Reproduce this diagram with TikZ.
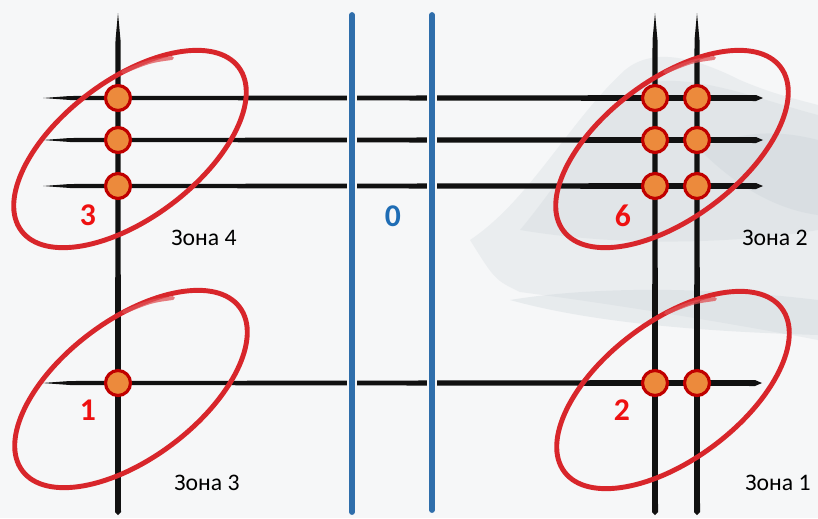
\documentclass[tikz,border=0pt]{standalone}
\usepackage{fontspec}
\setsansfont{Carlito}
\usetikzlibrary{positioning}
\definecolor{bgpaper}{HTML}{F6F7F8}
\definecolor{mist}{HTML}{C7D1D6}
\definecolor{ink}{HTML}{111111}
\definecolor{penred}{HTML}{D8262B}
\definecolor{dotrim}{HTML}{C00000}
\definecolor{dotfill}{HTML}{EC8A3C}
\definecolor{lineblue}{HTML}{2F6EAB}
\definecolor{zeroblue}{HTML}{1F6DB5}
\definecolor{numred}{HTML}{EE1111}

\begin{document}
\begin{tikzpicture}[
  x=0.02cm,y=-0.02cm,
  stick/.style={draw=lineblue,line width=3.3pt,line cap=round},
  halo/.style={draw=bgpaper,line width=6pt},
  zone/.style={draw=penred,line width=2.8pt},
  tail/.style={draw=penred!80,line width=2.2pt,opacity=.75,line cap=round},
  knot/.style={circle,draw=dotrim,fill=dotfill,line width=1.8pt,minimum size=0.5cm,inner sep=0pt},
  count/.style={font=\sffamily\bfseries\fontsize{18}{20}\selectfont,text=numred},
  zonelabel/.style={font=\sffamily\fontsize{13.5}{16}\selectfont,text=black}
]
\useasboundingbox (0,0) rectangle (818,518);
\fill[bgpaper] (0,0) rectangle (818,518);
\fill[mist,opacity=.25] (470,240) .. controls (530,200) and (570,120) .. (625,70) .. controls (655,45) and (700,60) .. (740,80) .. controls (775,95) and (800,100) .. (818,105) -- (818,340) .. controls (740,325) and (620,305) .. (520,292) .. controls (495,280) .. (470,240) -- cycle;
\fill[mist,opacity=.25] (520,230) .. controls (570,170) and (600,110) .. (640,85) .. controls (690,70) and (760,100) .. (818,115) -- (818,230) .. controls (760,240) and (640,250) .. (520,230) -- cycle;
\fill[mist,opacity=.3] (700,150) .. controls (740,130) and (780,130) .. (818,140) -- (818,215) .. controls (780,210) and (740,190) .. (700,150) -- cycle;
\fill[mist,opacity=.3] (510,300) .. controls (600,285) and (720,288) .. (818,300) -- (818,335) .. controls (720,332) and (600,325) .. (510,300) -- cycle;

\fill[ink] (43,98) -- (70,96) -- (756,95) -- (763,98) -- (756,101) -- (70,100) -- cycle;
\fill[ink] (43,140) -- (70,138) -- (756,137) -- (763,140) -- (756,143) -- (70,142) -- cycle;
\fill[ink] (43,186) -- (70,184) -- (756,183) -- (763,186) -- (756,189) -- (70,188) -- cycle;
\fill[ink] (42,383) -- (70,381) -- (755,380) -- (762,383) -- (755,386) -- (70,385) -- cycle;
\fill[ink] (118,13) -- (115.5,40) -- (115,512) -- (118,515) -- (121,512) -- (120.5,40) -- cycle;
\fill[ink] (655,13) -- (652.5,40) -- (652,512) -- (655,515) -- (658,512) -- (657.5,40) -- cycle;
\fill[ink] (697,13) -- (694.5,40) -- (694,512) -- (697,515) -- (700,512) -- (699.5,40) -- cycle;

\draw[halo] (352,22) -- (352,506);
\draw[halo] (432,22) -- (432,506);
\draw[stick] (352,15) -- (352,512);
\draw[stick] (432,15) -- (432,510);

\draw[zone,rotate around={37:(130,149)}] (130,149) ellipse [x radius=2.72cm,y radius=1.38cm];
\draw[tail] (172,58) .. controls (150,61) .. (123,72);
\draw[zone,rotate around={37:(672,149)}] (672,149) ellipse [x radius=2.72cm,y radius=1.38cm];
\draw[tail] (714,58) .. controls (692,61) .. (665,72);
\draw[zone,rotate around={37:(131,389)}] (131,389) ellipse [x radius=2.72cm,y radius=1.38cm];
\draw[tail] (173,298) .. controls (151,301) .. (124,312);
\draw[zone,rotate around={37:(673,390)}] (673,390) ellipse [x radius=2.72cm,y radius=1.38cm];
\draw[tail] (715,299) .. controls (693,302) .. (666,313);

\node[knot] (tl1) at (118,98) {};
\node[knot] (tl2) at (118,140) {};
\node[knot] (tl3) at (118,186) {};
\node[knot] (tr1) at (655,98) {};
\node[knot] (tr2) at (697,98) {};
\node[knot] (tr3) at (655,140) {};
\node[knot] (tr4) at (697,140) {};
\node[knot] (tr5) at (655,186) {};
\node[knot] (tr6) at (697,186) {};
\node[knot] (bl1) at (118,383) {};
\node[knot] (br1) at (655,383) {};
\node[knot] (br2) at (697,383) {};

\node[count] (sumtl) at (88,215) {3};
\node[count] (sumtr) at (623,216) {6};
\node[count] (sumbl) at (88,410) {1};
\node[count] (sumbr) at (622,410) {2};
\node[count,text=zeroblue] (summid) at (393,216) {0};

\node[zonelabel] (zone4) at (204,238) {Зона 4};
\node[zonelabel] (zone2) at (775,238) {Зона 2};
\node[zonelabel] (zone3) at (207,483) {Зона 3};
\node[zonelabel] (zone1) at (778,483) {Зона 1};
\end{tikzpicture}
\end{document}
